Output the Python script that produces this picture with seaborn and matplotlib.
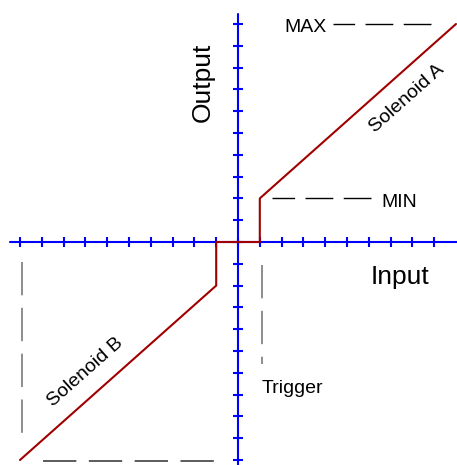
import matplotlib
matplotlib.use("Agg")
import matplotlib.pyplot as plt
import seaborn as sns
import numpy as np
import pandas as pd

# ---- data ----
curve_x = [-10, -1, -1, 1, 1, 10]
curve_y = [-10, -2, 0, 0, 2, 10]
x_ticks = list(range(-10, 10))
y_ticks = list(range(-10, 11))
max_level = 10
min_level = 2
trigger = 1.1
labels = {"MAX": "MAX", "MIN": "MIN", "Trigger": "Trigger",
          "Input": "Input", "Output": "Output",
          "A": "Solenoid A", "B": "Solenoid B"}

sns.set_theme(style="white")
plt.rcParams['font.family'] = ['Liberation Sans', 'DejaVu Sans']
plt.rcParams['text.color'] = 'black'

W, H = 457, 465
fig = plt.figure(figsize=(W / 100, H / 100), dpi=100)
ax = fig.add_axes([0, 0, 1, 1])
unit = 21.8
ox, oy = 238, 242
ax.set_xlim(-ox / unit, (W - ox) / unit)
ax.set_ylim(-(H - oy) / unit, oy / unit)
ax.axis("off")

blue = "#0000ff"
# axes lines
ax.plot([-10.45, 10.2], [0, 0], color=blue, lw=1.5, zorder=2)
ax.plot([0, 0], [-10.5, 10.45], color=blue, lw=1.5, zorder=2)
# ticks
ax.plot(x_ticks, [0] * len(x_ticks), ls="none", marker="|", ms=7.2, mew=1.5, color=blue, zorder=2)
ax.plot([0] * len(y_ticks), y_ticks, ls="none", marker="_", ms=7.2, mew=1.5, color=blue, zorder=2)

# reference dashed lines
dash = (0, (20, 7.5))
ax.plot([8.85, 4.36], [max_level, max_level], color="black", lw=1.0, ls=dash)
ax.plot([6.08, 1.56], [min_level, min_level], color="black", lw=1.0, ls=dash)
ax.plot([-9.9, -9.9], [-0.92, -9.1], color="#7a7a7a", lw=1.2, ls=dash)
ax.plot([-8.94, -0.92], [-10.05, -10.05], color="#404040", lw=1.2, ls=dash)
ax.plot([trigger, trigger], [-1.05, -5.6], color="#7a7a7a", lw=1.2, ls=dash)

# response curve
df = pd.DataFrame({"x": curve_x, "y": curve_y})
sns.lineplot(data=df, x="x", y="y", sort=False, estimator=None, color="#a00000",
             lw=1.5, ax=ax, zorder=3)
ax.axis("off")

# texts
ang = np.degrees(np.arctan2(8, 9))
ax.text(4.08, 9.63, labels["MAX"], ha="right", va="baseline", fontsize=14, color="black")
ax.text(6.56, 1.6, labels["MIN"], ha="left", va="baseline", fontsize=14, color="black")
ax.text(1.1, -6.93, labels["Trigger"], ha="left", va="baseline", fontsize=14, color="black")
ax.text(6.1, -1.93, labels["Input"], ha="left", va="baseline", fontsize=19, color="black")
ax.text(-1.6, 7.34, labels["Output"], ha="center", va="center", rotation=90, fontsize=19,
        color="black")
ax.text(7.75, 6.6, labels["A"], ha="center", va="center", rotation=ang,
        rotation_mode="anchor", fontsize=14, color="black")
ax.text(-7.0, -5.96, labels["B"], ha="center", va="center", rotation=ang,
        rotation_mode="anchor", fontsize=14, color="black")

fig.savefig("out.png", dpi=100)
